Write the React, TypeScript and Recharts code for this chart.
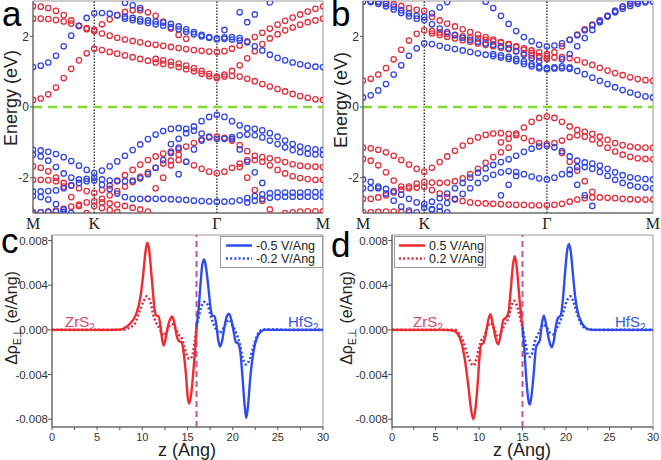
import { ScatterChart, Scatter, LineChart, Line, XAxis, YAxis, ReferenceLine, ReferenceArea } from "recharts";

const _ = null;
const gap = (n: number) => Array(n).fill(null);

// k-path M -> K -> Gamma -> M (relative lengths 1/3, 2/3, 1/sqrt3)
const K_PATH = [
  0, 0.042, 0.083, 0.125, 0.167, 0.208, 0.25, 0.292, 0.333,
  0.375, 0.417, 0.458, 0.5, 0.542, 0.583, 0.625, 0.667, 0.708, 0.75, 0.792, 0.833, 0.875, 0.917, 0.958, 1.0,
  1.041, 1.082, 1.124, 1.165, 1.206, 1.247, 1.288, 1.33, 1.371, 1.412, 1.453, 1.494, 1.536, 1.577,
];
const HS_TICKS = [0, 0.333, 1.0, 1.577];
const HS_LABELS = ["M", "K", "Γ", "M"];
const E_TICKS = [-2, 0, 2];

// ---- panel a (eV) ----
const A_R1 = [0.2, 0.24, 0.36, 0.55, 0.82, 1.08, 1.32, 1.52, 1.65,
  1.61, 1.56, 1.51, 1.46, 1.41, 1.36, 1.31, 1.26, 1.22, 1.18, 1.13, 1.07, 1.01, 0.94, 0.87, 0.82,
  0.86, 0.88, 0.86, 0.8, 0.73, 0.65, 0.58, 0.51, 0.44, 0.37, 0.31, 0.26, 0.22, 0.2];
const A_R1B = [...gap(9), ...gap(7), 1.36, 1.32, 1.28, 1.23, 1.17, 1.1, 1.02, 0.94, 0.86, ...gap(14)];
const A_R2 = [2.85, 2.84, 2.8, 2.72, 2.6, 2.45, 2.3, 2.2, 2.15,
  2.08, 2.02, 1.96, 1.91, 1.87, 1.83, 1.79, 1.76, 1.73, 1.7, 1.67, 1.64, 1.61, 1.59, 1.57, 1.56,
  1.58, 1.65, 1.74, 1.86, 1.98, 2.1, 2.22, 2.33, 2.44, 2.53, 2.62, 2.7, 2.78, 2.85];
const A_R3 = [2.5, 2.5, 2.49, 2.46, 2.42, 2.36, 2.29, 2.23, 2.19,
  2.34, 2.48, 2.6, 2.69, 2.74, 2.74, 2.68, 2.58, 2.42, 2.22, 2.04, 1.93, _, _, _, _,
  0.92, 1.02, 1.18, 1.38, 1.58, 1.78, 1.94, 2.06, 2.17, 2.25, 2.33, 2.4, 2.45, 2.5];
const A_B1 = [1.13, 1.17, 1.26, 1.45, 1.72, 2.02, 2.3, 2.52, 2.65,
  2.66, 2.64, 2.6, 2.56, 2.52, 2.48, 2.45, 2.42, 2.39, 2.35, 2.28, 2.2, 2.12, 2.04, 1.98, 1.94,
  1.93, 1.91, 1.88, 1.83, 1.72, 1.6, 1.48, 1.39, 1.32, 1.26, 1.21, 1.17, 1.14, 1.13];
const A_B1B = [...gap(9), _, _, _, 2.5, 2.46, 2.42, 2.38, 2.34, 2.3, 2.26, 2.2, 2.13, 2.06, 2.0, 1.96, 1.92,
  1.97, 1.98, 1.95, ...gap(11)];
const A_B2 = [...gap(9), _, _, _, 2.95, 2.88, 2.8, ...gap(10),
  2.18, _, 2.68, 2.4, 2.62, _, 2.96, ...gap(7)];
const A_BV1 = [-1.21, -1.23, -1.27, -1.33, -1.42, -1.53, -1.66, -1.78, -1.87,
  -1.8, -1.68, -1.54, -1.38, -1.22, -1.06, -0.91, -0.78, -0.68, -0.62, -0.6, -0.62, -0.67, -0.75, -0.84, -0.9,
  -0.9, -0.85, -0.8, -0.78, -0.8, -0.86, -0.95, -1.05, -1.14, -1.22, -1.28, -1.32, -1.34, -1.35];
const A_BV2 = [...gap(9), ...gap(9), -1.05, -0.9, -0.74, -0.55, -0.4, -0.28, -0.22,
  -0.28, -0.4, -0.52, -0.6, -0.62, -0.66, -0.74, -0.84, -0.95, -1.05, -1.12, -1.17, -1.2, -1.21];
const A_BV3 = [-1.35, -1.4, -1.52, -1.7, -1.88, -2.0, -2.05, -2.03, -2.0,
  -2.05, -2.08, -2.1, -2.1, -2.08, -2.02, -1.9, -1.72, -1.5, -1.3, -1.15, _, _, _, _, _,
  ...gap(14)];
const A_BV4 = [-2.39, -2.39, -2.38, -2.36, -2.3, -2.22, -2.15, -2.1, -2.08,
  -2.2, -2.32, -2.45, -2.55, -2.6, -2.6, -2.6, -2.6, -2.6, -2.61, -2.62, -2.63, -2.65, -2.66, -2.67, -2.68,
  -2.68, -2.67, -2.64, -2.58, -2.52, -2.47, -2.44, -2.42, -2.42, -2.42, -2.42, -2.41, -2.41, -2.41];
const A_BV5 = [-2.52, -2.55, -2.62, -2.75, -2.9, -3.0, _, _, _, ...gap(16),
  _, _, _, -2.7, -2.65, -2.6, -2.57, -2.55, -2.54, -2.54, -2.54, -2.54, -2.54, -2.54];
const A_BV6 = [...gap(9), ...gap(10), -1.9, -1.55, -1.2, -0.95, _, _,
  _, -0.9, -1.2, -1.55, -1.85, -2.15, ...gap(8)];
const A_BV7 = [-2.98, -2.98, -2.97, -2.96, -2.97, ...gap(4), ...gap(16), ...gap(14)];
const A_RV1 = [-1.68, -1.72, -1.82, -2.0, -2.25, -2.55, -2.8, -3.0, _,
  -2.6, -2.5, -2.38, -2.25, -2.12, -1.98, -1.85, -1.72, -1.6, -1.52, -1.5, -1.55, -1.65, -1.75, -1.83, -1.87,
  -1.83, -1.72, -1.6, -1.5, -1.5, -1.55, -1.65, -1.78, -1.88, -1.96, -2.01, -2.04, -2.06, -2.06];
const A_RV2 = [-2.06, -2.06, -2.07, -2.1, -2.15, -2.22, -2.3, -2.38, -2.43,
  -2.35, -2.22, -2.08, -1.93, -1.78, -1.63, -1.5, -1.4, -1.32, -1.26, -1.2, -1.12, -1.02, -0.92, -0.86, -0.84,
  -0.87, -0.95, -1.08, -1.25, -1.38, -1.42, -1.45, -1.5, -1.56, -1.62, -1.66, -1.68, -1.69, -1.7];
const A_RV3 = [-3.0, -2.98, -2.96, -2.93, -2.88, -2.82, -2.76, -2.7, -2.67,
  -2.7, -2.73, -2.76, -2.8, -2.85, -2.9, -2.96, ...gap(9), ...gap(14)];
const A_RV4 = [...gap(8), -2.8, -2.86, -2.92, -2.97, ...gap(13),
  ...gap(8), -3.0, -2.98, -2.96, -2.95, -2.95, -2.95];
const A_RV5 = [...gap(9), ...gap(6), -2.6, -2.3, -2.0, -1.65, -1.35, ...gap(5),
  _, _, -1.7, -2.0, -2.35, -2.65, -2.9, ...gap(7)];

// ---- panel b (eV) ----
const B_B1 = [0.27, 0.33, 0.47, 0.65, 0.92, 1.18, 1.45, 1.66, 1.8,
  1.78, 1.73, 1.68, 1.64, 1.6, 1.56, 1.52, 1.48, 1.44, 1.4, 1.36, 1.3, 1.22, 1.15, 1.1, 1.07,
  1.09, 1.1, 1.08, 1.02, 0.93, 0.83, 0.74, 0.65, 0.56, 0.48, 0.41, 0.35, 0.3, 0.27];
const B_B1B = [...gap(9), ...gap(8), 1.5, 1.46, 1.42, 1.36, 1.29, 1.21, 1.14, 1.1,
  1.12, 1.15, 1.12, ...gap(11)];
const B_B2 = [...gap(9), ...gap(7), 2.98, 2.8, 2.58, 2.35, 2.15, 1.98, 1.86, 1.76, 1.72,
  1.74, 1.8, 1.9, 2.03, 2.17, 2.31, 2.44, 2.56, 2.68, 2.78, 2.86, 2.92, 2.96, 2.98];
const B_B3 = [2.98, 2.97, 2.92, 2.85, 2.76, 2.66, 2.57, 2.5, 2.46,
  2.34, 2.22, 2.12, 2.04, 1.96, 1.9, 1.85, 1.8, 1.76, 1.72, 1.66, 1.58, 1.48, 1.38, 1.3, _,
  ...gap(14)];
const B_B3B = [_, 2.99, 2.97, 2.92, 2.84, 2.74, 2.65, 2.58, 2.55,
  2.65, 2.82, 2.97, ...gap(13), ...gap(14)];
const B_B5 = [...gap(9), ...gap(16),
  _, 1.35, 1.5, 1.72, 1.95, 2.18, 2.4, 2.58, 2.72, 2.84, 2.92, 2.97, 2.99, _];
const B_R1 = [0.75, 0.8, 0.92, 1.1, 1.35, 1.62, 1.88, 2.07, 2.17,
  2.15, 2.11, 2.07, 2.03, 2.0, 1.97, 1.94, 1.9, 1.86, 1.82, 1.77, 1.7, 1.62, 1.53, 1.44, 1.38,
  1.4, 1.41, 1.38, 1.33, 1.26, 1.19, 1.11, 1.03, 0.96, 0.9, 0.84, 0.79, 0.76, 0.74];
const B_R1B = [...gap(9),
  2.08, 2.04, 1.99, 1.94, 1.89, 1.85, 1.8, 1.76, 1.72, 1.68, 1.64, 1.58, 1.52, 1.46, 1.4, 1.36,
  ...gap(14)];
const B_R2 = [_, 2.99, 2.98, 2.95, 2.91, 2.86, 2.8, 2.75, 2.72,
  2.55, 2.45, 2.36, 2.28, 2.2, 2.12, 2.05, 1.98, 1.91, 1.84, 1.78, 1.72, 1.66, 1.6, 1.55, 1.5,
  ...gap(14)];
const B_R3 = [...gap(9), ...gap(15), 1.45,
  1.55, 1.72, 1.9, 2.05, 2.2, 2.33, 2.45, 2.58, 2.72, 2.85, 2.95, 2.99, _, _];
const B_RV1 = [-1.15, -1.17, -1.21, -1.28, -1.38, -1.5, -1.63, -1.75, -1.83,
  -1.72, -1.56, -1.4, -1.24, -1.09, -0.96, -0.86, -0.79, -0.75, -0.74, -0.76, -0.8, -0.88, -0.96, -1.02, -1.05,
  -1.02, -0.95, -0.85, -0.8, -0.84, -0.92, -1.03, -1.15, -1.26, -1.35, -1.41, -1.45, -1.47, -1.48];
const B_RV2 = [...gap(9), ...gap(9), -1.0, -0.9, -0.75, -0.58, -0.42, -0.31, -0.27,
  -0.31, -0.42, -0.55, -0.65, -0.7, -0.76, -0.84, -0.93, -1.02, -1.08, -1.12, -1.14, -1.15, -1.15];
const B_RV3 = [-1.47, -1.52, -1.65, -1.85, -2.08, -2.25, -2.3, -2.28, -2.26,
  -2.35, -2.45, -2.55, -2.62, -2.66, -2.7, -2.72, -2.73, -2.74, -2.75, -2.76, -2.77, -2.77, -2.78, -2.78, -2.78,
  -2.77, -2.74, -2.68, -2.62, -2.58, -2.56, -2.56, -2.57, -2.58, -2.6, -2.61, -2.62, -2.62, -2.62];
const B_RV4 = [-2.6, -2.6, -2.56, -2.5, -2.42, -2.34, -2.25, -2.17, -2.12,
  -2.14, -2.15, -2.14, -2.1, -2.02, -1.9, -1.75, -1.58, -1.42, -1.28, -1.15, _, _, _, _, _,
  ...gap(14)];
const B_RV5 = [-2.98, -2.98, -2.97, -2.96, -2.96, -2.97, -2.98, _, _, ...gap(16),
  _, -1.3, -1.55, -1.8, -2.1, -2.4, ...gap(8)];
const B_BV1 = [-2.3, -2.3, -2.3, -2.32, -2.38, -2.48, -2.6, -2.7, -2.75,
  -2.68, -2.58, -2.45, -2.3, -2.15, -2.0, -1.86, -1.74, -1.64, -1.56, -1.48, -1.38, -1.27, -1.18, -1.12, -1.1,
  -1.14, -1.25, -1.4, -1.52, -1.57, -1.6, -1.66, -1.75, -1.85, -1.93, -1.99, -2.02, -2.04, -2.05];
const B_BV2 = [-2.05, -2.12, -2.25, -2.45, -2.65, -2.82, -2.93, -2.98, _,
  -2.9, -2.82, -2.72, -2.6, -2.46, -2.3, -2.15, -2.02, -1.92, -1.85, -1.82, -1.84, -1.9, -1.97, -2.02, -2.05,
  -2.0, -1.9, -1.78, -1.7, -1.7, -1.75, -1.84, -1.95, -2.06, -2.15, -2.22, -2.26, -2.28, -2.3];
const B_BV3 = [...gap(8), -2.85, -2.9, -2.95, -2.98, ...gap(6), -2.5, -2.2, -1.95, ...gap(4),
  _, _, -1.9, -2.2, -2.5, -2.8, ...gap(8)];

// ---- panels c, d: [z (Ang), delta rho (1e-3 e/Ang)] ----
const C_NEG05_ZR = [[0, 0], [6, 0], [7.5, 0.02], [8.3, 0.3], [8.9, 0.8], [9.4, 1.6], [9.8, 3.0], [10.1, 5.0], [10.35, 7.0], [10.55, 7.8], [10.75, 7.2], [10.95, 5.5], [11.15, 3.6], [11.35, 1.9], [11.55, 1.3], [11.8, 1.2], [12.0, 0.4], [12.15, -0.6], [12.35, -1.4], [12.55, -0.9], [12.8, 0.2], [13.05, 0.9], [13.3, 1.2], [13.55, 0.6], [13.8, -0.5], [14.05, -1.0], [14.35, -1.1], [14.6, -2.2], [14.85, -4.2], [15.05, -6.2], [15.2, -6.6], [15.4, -5.8], [15.6, -4.2], [15.8, -2.2], [16.0, 0.3]];
const C_NEG05_HF = [[16.0, 0.3], [16.2, 1.6], [16.45, 4.2], [16.65, 5.9], [16.85, 6.3], [17.05, 5.6], [17.3, 3.9], [17.55, 2.0], [17.75, 1.3], [18.0, 1.2], [18.2, 0.4], [18.4, -0.9], [18.6, -1.5], [18.85, -0.9], [19.1, 0.3], [19.35, 1.2], [19.6, 1.45], [19.85, 0.9], [20.1, -0.1], [20.35, -1.1], [20.6, -1.2], [20.85, -2.0], [21.05, -3.8], [21.3, -6.5], [21.5, -7.9], [21.7, -6.8], [21.95, -4.3], [22.2, -2.5], [22.5, -1.2], [22.8, -0.5], [23.2, -0.1], [23.6, 0], [30, 0]];
const C_NEG02_ZR = [[0, 0], [6, 0], [8.0, 0.02], [8.6, 0.2], [9.2, 0.6], [9.7, 1.7], [10.1, 2.5], [10.5, 3.0], [10.9, 2.5], [11.2, 1.4], [11.5, 0.7], [11.8, 0.3], [12.1, -0.2], [12.4, -0.5], [12.7, -0.1], [13.05, 0.4], [13.35, 0.5], [13.7, 0.1], [14.0, -0.4], [14.3, -0.6], [14.6, -1.4], [14.9, -2.2], [15.2, -2.6], [15.5, -2.4], [15.8, -1.0], [16.0, 0.3]];
const C_NEG02_HF = [[16.0, 0.3], [16.2, 1.0], [16.5, 2.0], [16.85, 2.5], [17.2, 2.3], [17.55, 1.3], [17.9, 0.5], [18.2, 0.0], [18.5, -0.3], [18.8, -0.1], [19.2, 0.5], [19.6, 0.9], [20.0, 0.4], [20.4, -0.3], [20.8, -1.3], [21.1, -2.5], [21.5, -3.1], [21.9, -2.6], [22.3, -1.5], [22.7, -0.5], [23.1, -0.05], [23.6, 0.05], [24.5, 0.05], [26, 0], [30, 0]];
const D_POS05_ZR = [[0, 0], [6, 0], [7.0, -0.05], [7.5, -0.3], [8.0, -1.2], [8.4, -2.8], [8.8, -5.2], [9.1, -7.2], [9.35, -8.0], [9.6, -7.0], [9.85, -4.8], [10.05, -2.5], [10.25, -1.3], [10.5, -1.2], [10.75, -0.5], [11.0, 0.6], [11.3, 1.4], [11.6, 0.5], [11.9, -0.7], [12.2, -1.3], [12.5, -0.4], [12.8, 0.9], [13.1, 1.1], [13.4, 1.6], [13.65, 3.6], [13.9, 5.8], [14.1, 6.6], [14.3, 5.9], [14.5, 4.2], [14.7, 2.4], [14.9, 0.9], [15.0, 0.3]];
const D_POS05_HF = [[15.0, 0.3], [15.2, -1.6], [15.45, -4.5], [15.7, -6.4], [15.85, -6.7], [16.05, -5.8], [16.3, -3.8], [16.55, -1.6], [16.8, -1.2], [17.0, -0.9], [17.2, 0.4], [17.45, 1.3], [17.75, 0.3], [18.05, -0.9], [18.35, -1.55], [18.6, -1.0], [18.85, 0.4], [19.1, 1.1], [19.4, 1.3], [19.65, 2.8], [19.9, 5.2], [20.15, 7.2], [20.35, 7.7], [20.55, 7.0], [20.8, 5.0], [21.05, 3.0], [21.35, 1.6], [21.7, 0.8], [22.1, 0.3], [22.6, 0.05], [23.5, 0], [30, 0]];
const D_POS02_ZR = [[0, 0], [6, 0], [7.2, 0], [7.7, -0.3], [8.2, -1.1], [8.7, -2.3], [9.1, -3.0], [9.4, -3.2], [9.7, -2.6], [10.0, -1.6], [10.3, -0.9], [10.6, -0.6], [10.9, 0.1], [11.3, 0.6], [11.7, 0.2], [12.0, -0.4], [12.3, -0.6], [12.6, -0.1], [12.9, 0.4], [13.3, 0.9], [13.7, 2.0], [14.0, 2.6], [14.3, 2.3], [14.6, 1.5], [14.9, 0.5], [15.0, 0.2]];
const D_POS02_HF = [[15.0, 0.2], [15.3, -1.0], [15.6, -2.2], [15.85, -2.4], [16.1, -2.1], [16.4, -1.1], [16.7, -0.5], [17.0, -0.1], [17.4, 0.5], [17.8, 0.2], [18.2, -0.3], [18.5, -0.4], [18.9, 0.1], [19.3, 0.7], [19.7, 1.6], [20.1, 2.6], [20.5, 3.0], [20.9, 2.4], [21.3, 1.4], [21.7, 0.6], [22.1, 0.2], [22.6, 0.05], [23.5, 0], [30, 0]];

const Z_TICKS = [0, 2.5, 5, 7.5, 10, 12.5, 15, 17.5, 20, 22.5, 25, 27.5, 30];
const RHO_TICKS = [-8, -4, 0, 4, 8];

const RED = "#e0303f";
const BLUE = "#3347e0";
const LRED = "#f02a2e";
const LRED_DOT = "#d0304e";
const LBLUE = "#2e4cf0";
const SANS = "Liberation Sans, Arial, sans-serif";

const toPoints = (vals: (number | null)[]) =>
  vals.map((e, i) => (e == null || K_PATH[i] == null ? null : { k: K_PATH[i], e })).filter(Boolean) as { k: number; e: number }[];
const toXY = (pts: number[][]) => pts.map(([z, v]) => ({ z, v }));

const ring = (color: string) => (p: any) =>
  <circle cx={p.cx} cy={p.cy} r={2.7} fill="none" stroke={color} strokeWidth={1.3} />;

function BandPanel({ left, red, blue }: { left: number; red: (number | null)[][]; blue: (number | null)[][] }) {
  const bands = [...red.map((v) => ({ v, c: RED })), ...blue.map((v) => ({ v, c: BLUE }))];
  return (
    <div style={{ position: "absolute", left, top: 0 }}>
      <ScatterChart width={330} height={240} margin={{ top: 1, right: 7, bottom: 7, left: 5 }}>
        <XAxis type="number" dataKey="k" domain={[0, 1.577]} ticks={HS_TICKS} allowDataOverflow
          tickFormatter={(v: number) => HS_LABELS[HS_TICKS.indexOf(v)]} height={20}
          tickLine={false} tickSize={0} tickMargin={5} axisLine={{ stroke: "#555" }}
          tick={{ fontFamily: "Liberation Serif, Times New Roman, serif", fontSize: 16, fill: "#222" }} />
        <YAxis type="number" dataKey="e" domain={[-3, 3]} ticks={E_TICKS} allowDataOverflow width={28}
          tickSize={3} tickMargin={1} axisLine={{ stroke: "#555" }} tickLine={{ stroke: "#555" }}
          tick={{ fontFamily: SANS, fontSize: 12, fill: "#333" }} />
        <ReferenceArea x1={0} x2={1.577} y1={-3} y2={3} fill="none" stroke="#999" />
        <ReferenceLine x={0.333} stroke="#111" strokeDasharray="1.5 1.5" strokeWidth={1.2} />
        <ReferenceLine x={1.0} stroke="#111" strokeDasharray="1.5 1.5" strokeWidth={1.2} />
        <ReferenceLine y={0} stroke="#80dd30" strokeDasharray="9 6" strokeWidth={2.5} />
        {bands.map((b, i) => (
          <Scatter key={i} data={toPoints(b.v)} shape={ring(b.c)} isAnimationActive={false} />
        ))}
      </ScatterChart>
    </div>
  );
}

function DensityPanel({ left, plotLeft, divider, series }: {
  left: number; plotLeft: number; divider: number;
  series: { pts: number[][]; color: string; dotted: boolean }[];
}) {
  return (
    <div style={{ position: "absolute", left, top: 230 }}>
      <LineChart width={330} height={230} margin={{ top: 5, right: 7, bottom: 13, left: plotLeft - 40 }}>
        <XAxis type="number" dataKey="z" domain={[0, 30]} ticks={Z_TICKS} allowDataOverflow
          tickFormatter={(v: number) => (v % 5 === 0 ? String(v) : "")} height={20}
          tickSize={3} tickMargin={3} axisLine={{ stroke: "#555" }} tickLine={{ stroke: "#555" }}
          tick={{ fontFamily: SANS, fontSize: 11, fill: "#333" }} />
        <YAxis type="number" domain={[-8.7, 8.5]} ticks={RHO_TICKS} allowDataOverflow width={40}
          tickFormatter={(v: number) => (v / 1000).toFixed(3)}
          tickSize={4} tickMargin={0} axisLine={{ stroke: "#555" }} tickLine={{ stroke: "#555" }}
          tick={{ fontFamily: SANS, fontSize: 11.5, fill: "#333" }} />
        <ReferenceArea x1={0} x2={30} y1={-8.7} y2={8.5} fill="none" stroke="#999" />
        <ReferenceLine x={divider} stroke="#c4559a" strokeDasharray="6 4" strokeWidth={2} />
        {series.map((s, i) => (
          <Line key={i} data={toXY(s.pts)} dataKey="v" type="monotone" stroke={s.color}
            strokeWidth={s.dotted ? 2.6 : 2.4} strokeDasharray={s.dotted ? "2 2.2" : undefined}
            dot={false} isAnimationActive={false} />
        ))}
      </LineChart>
    </div>
  );
}

function Overlay() {
  const letter = { fontFamily: SANS, fontSize: 35, fill: "#000" };
  const title = { fontFamily: SANS, fontSize: 18, fill: "#222" };
  return (
    <svg width={661} height={460} style={{ position: "absolute", left: 0, top: 0, pointerEvents: "none" }}>
      <text x={2} y={26} {...letter}>a</text>
      <text x={331} y={26} {...letter}>b</text>
      <text x={1} y={253} {...letter}>c</text>
      <text x={331} y={257} {...letter}>d</text>

      <text transform="translate(17,98) rotate(-90)" textAnchor="middle" {...title}>Energy (eV)</text>
      <text transform="translate(347,100) rotate(-90)" textAnchor="middle" {...title}>Energy (eV)</text>

      {[17, 352].map((x) => (
        <text key={x} transform={`translate(${x},318) rotate(-90)`} textAnchor="middle" {...title} fontSize={16}>
          Δρ<tspan dy={4} fontSize={10.5}>E⊥</tspan><tspan dy={-4}> (e/Ang)</tspan>
        </text>
      ))}
      <text x={187} y={456} textAnchor="middle" {...title}>z (Ang)</text>
      <text x={522} y={456} textAnchor="middle" {...title}>z (Ang)</text>

      <text x={65} y={327} fontFamily={SANS} fontSize={15} fill="#e0456a">ZrS<tspan dy={4} fontSize={10}>2</tspan></text>
      <text x={288} y={327} fontFamily={SANS} fontSize={15} fill="#3a55e0">HfS<tspan dy={4} fontSize={10}>2</tspan></text>
      <text x={413} y={327} fontFamily={SANS} fontSize={15} fill="#e0456a">ZrS<tspan dy={4} fontSize={10}>2</tspan></text>
      <text x={615} y={327} fontFamily={SANS} fontSize={15} fill="#3a55e0">HfS<tspan dy={4} fontSize={10}>2</tspan></text>

      <rect x={220.5} y={236.5} width={102} height={31} fill="#fff" stroke="#999" />
      <line x1={226} x2={252} y1={245.5} y2={245.5} stroke={LBLUE} strokeWidth={2.5} />
      <line x1={226} x2={252} y1={258.5} y2={258.5} stroke={LBLUE} strokeWidth={2.6} strokeDasharray="2 2.2" />
      <text x={256} y={250} fontFamily={SANS} fontSize={12.5} fill="#222">-0.5 V/Ang</text>
      <text x={256} y={263} fontFamily={SANS} fontSize={12.5} fill="#222">-0.2 V/Ang</text>

      <rect x={394.5} y={236.5} width={91} height={31} fill="#fff" stroke="#999" />
      <line x1={399} x2={425} y1={245.5} y2={245.5} stroke={LRED} strokeWidth={2.5} />
      <line x1={399} x2={425} y1={258.5} y2={258.5} stroke={LRED_DOT} strokeWidth={2.6} strokeDasharray="2 2.2" />
      <text x={429} y={250} fontFamily={SANS} fontSize={12.5} fill="#222">0.5 V/Ang</text>
      <text x={429} y={263} fontFamily={SANS} fontSize={12.5} fill="#222">0.2 V/Ang</text>
    </svg>
  );
}

export default function App() {
  return (
    <div style={{ position: "absolute", left: 0, top: 0, width: 661, height: 460, background: "#fff", overflow: "hidden" }}>
      <BandPanel left={0}
        red={[A_R1, A_R1B, A_R2, A_R3, A_RV1, A_RV2, A_RV3, A_RV4, A_RV5]}
        blue={[A_B1, A_B1B, A_B2, A_BV1, A_BV2, A_BV3, A_BV4, A_BV5, A_BV6, A_BV7]} />
      <BandPanel left={330}
        red={[B_R1, B_R1B, B_R2, B_R3, B_RV1, B_RV2, B_RV3, B_RV4, B_RV5]}
        blue={[B_B1, B_B1B, B_B2, B_B3, B_B3B, B_B5, B_BV1, B_BV2, B_BV3]} />
      <DensityPanel left={0} plotLeft={52} divider={16} series={[
        { pts: C_NEG02_ZR, color: LRED_DOT, dotted: true },
        { pts: C_NEG02_HF, color: LBLUE, dotted: true },
        { pts: C_NEG05_ZR, color: LRED, dotted: false },
        { pts: C_NEG05_HF, color: LBLUE, dotted: false },
      ]} />
      <DensityPanel left={330} plotLeft={62} divider={15} series={[
        { pts: D_POS02_ZR, color: LRED_DOT, dotted: true },
        { pts: D_POS02_HF, color: LBLUE, dotted: true },
        { pts: D_POS05_ZR, color: LRED, dotted: false },
        { pts: D_POS05_HF, color: LBLUE, dotted: false },
      ]} />
      <Overlay />
    </div>
  );
}
